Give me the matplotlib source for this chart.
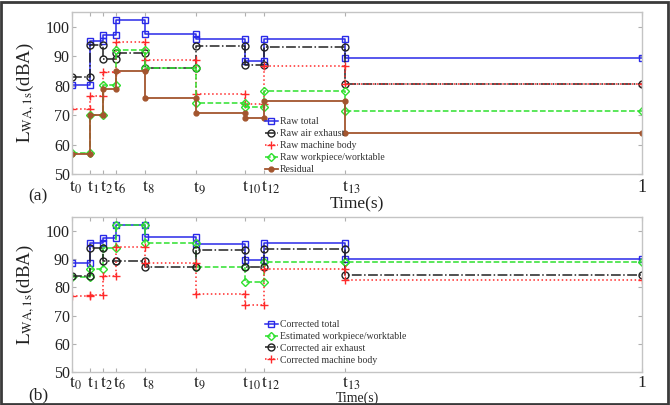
import matplotlib
matplotlib.use('Agg')
import matplotlib.pyplot as plt
from matplotlib.patches import Rectangle
from matplotlib.transforms import ScaledTranslation

plt.rcParams['font.family'] = ['Liberation Serif', 'DejaVu Serif']
plt.rcParams['mathtext.fontset'] = 'stix'

# time breakpoints (normalised axis, last one is "1")
t_pos = [0.0, 0.0316, 0.0544, 0.0772, 0.128, 0.2175, 0.3035, 0.3368, 0.4789, 1.0]
t_labels = [r'$\mathrm{t_{0}}$', r'$\mathrm{t_{1}}$', r'$\mathrm{t_{2}}$', r'$\mathrm{t_{6}}$',
            r'$\mathrm{t_{8}}$', r'$\mathrm{t_{9}}$', r'$\mathrm{t_{10}}$', r'$\mathrm{t_{12}}$',
            r'$\mathrm{t_{13}}$', '1']

# level of each series on each interval [t_i, t_i+1]
raw_total = [80.3, 95.2, 97.2, 102.3, 97.6, 95.9, 88.5, 95.8, 89.3]
raw_air = [83.1, 94.0, 89.1, 91.1, 86.1, 93.6, 86.9, 93.2, 80.6]
raw_machine = [72.1, 76.7, 84.6, 94.8, 88.7, 77.2, 73.7, 86.6, 80.6]
raw_workpiece = [57.2, 70.1, 80.3, 92.2, 86.0, 74.0, 72.8, 78.2, 71.3]
residual = [56.8, 70.0, 78.8, 84.9, 75.9, 70.6, 69.0, 74.8, 64.0]

corr_total = [88.5, 95.6, 97.4, 102.0, 97.7, 95.4, 89.7, 95.8, 90.0]
est_workpiece = [83.6, 86.6, 94.0, 102.0, 95.6, 87.2, 82.0, 89.0, 89.0]
corr_air = [84.0, 93.8, 89.4, 89.4, 87.1, 93.1, 87.1, 93.5, 84.4]
corr_machine = [76.8, 77.3, 84.2, 94.4, 88.5, 77.5, 73.6, 86.4, 82.6]

BLUE = '#2a2ae8'
BLACK = '#222222'
RED = '#ff2a2a'
GREEN = '#2ee02e'
BROWN = '#a3552e'


def steps(levels):
    xs, ys = [], []
    for i, v in enumerate(levels):
        xs += [t_pos[i], t_pos[i + 1]]
        ys += [v, v]
    return xs, ys


def draw(ax, levels, label, color, ls, marker, ms, mfc='none', lw=1.1):
    xs, ys = steps(levels)
    ax.plot(xs, ys, color=color, ls=ls, lw=lw, marker=marker, ms=ms,
            mfc=mfc, mec=color, mew=1.0, label=label)


def style(ax, fig, xsize, xpad):
    ax.set_xlim(0, 1)
    ax.set_ylim(50, 105)
    ax.set_yticks([50, 60, 70, 80, 90, 100])
    ax.set_xticks(t_pos)
    ax.set_xticklabels(t_labels)
    for s in ax.spines.values():
        s.set_color('#c4c4c4')
        s.set_linewidth(1.0)
    ax.tick_params(direction='in', length=3, color='#b0b0b0', top=True, right=True,
                   labelcolor='#222222')
    ax.tick_params(axis='y', labelsize=11.5, pad=1.5)
    ax.tick_params(axis='x', labelsize=xsize, pad=xpad)
    off = ScaledTranslation(-2 / 72, 0, fig.dpi_scale_trans)
    for lbl in ax.get_xticklabels()[:-1]:
        lbl.set_ha('left')
        lbl.set_transform(lbl.get_transform() + off)
    ax.set_ylabel(r'$\mathrm{L_{WA,1s}}$(dBA)', fontsize=13.5, color='#222222')
    ax.yaxis.set_label_coords(-0.062, 0.5)


fig = plt.figure(figsize=(6.7, 4.05), dpi=100)
ax1 = fig.add_axes([0.1075, 0.570, 0.851, 0.400])
ax2 = fig.add_axes([0.1075, 0.0815, 0.851, 0.383])

draw(ax1, raw_total, 'Raw total', BLUE, '-', 's', 4.5)
draw(ax1, raw_air, 'Raw air exhaust', BLACK, '-.', 'o', 5)
draw(ax1, raw_machine, 'Raw machine body', RED, ':', '+', 6)
draw(ax1, raw_workpiece, 'Raw workpiece/worktable', GREEN, '--', 'D', 4.5)
draw(ax1, residual, 'Residual', BROWN, '-', 'o', 3.5, mfc=BROWN, lw=1.3)

draw(ax2, corr_total, 'Corrected total', BLUE, '-', 's', 4.5)
draw(ax2, est_workpiece, 'Estimated workpiece/worktable', GREEN, '--', 'D', 4.5)
draw(ax2, corr_air, 'Corrected air exhaust', BLACK, '-.', 'o', 5)
draw(ax2, corr_machine, 'Corrected machine body', RED, ':', '+', 6)

style(ax1, fig, 13, 3.5)
style(ax2, fig, 12.5, 2)
for ax, anchor in ((ax1, (0.338, 0.35)), (ax2, (0.338, 0.335))):
    leg = ax.legend(loc='upper left', bbox_to_anchor=anchor, frameon=False, fontsize=7.1,
                    handlelength=1.35, handletextpad=0.15, labelspacing=0.3,
                    borderpad=0, borderaxespad=0)
    for txt in leg.get_texts():
        txt.set_color('#333333')

ax1.set_xlabel('Time(s)', fontsize=12.5, color='#222222', labelpad=0)
ax2.set_xlabel('Time(s)', fontsize=10, color='#222222')
ax2.xaxis.set_label_coords(0.5, -0.127)

fig.text(0.057, 0.516, '(a)', fontsize=12.5, color='#222222', ha='center', va='center')
fig.text(0.057, 0.024, '(b)', fontsize=12.5, color='#222222', ha='center', va='center')

fig.patches.append(Rectangle((0.002, 0.003), 0.995, 0.993, transform=fig.transFigure,
                             fill=False, edgecolor='#3a3a3a', lw=2.0))

fig.savefig('out.png', dpi=100)
